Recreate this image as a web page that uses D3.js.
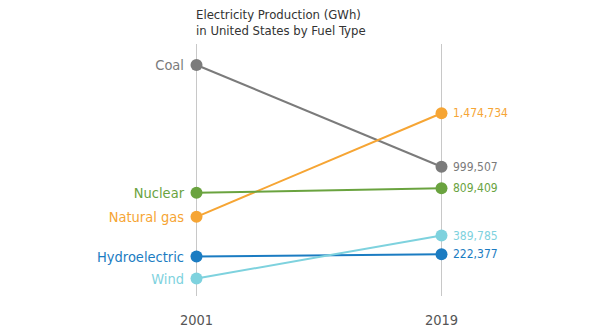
<!DOCTYPE html>
<html>
<head>
<meta charset="utf-8">
<script src="https://cdn.jsdelivr.net/npm/d3@7"></script>
<style>
  body { margin: 0; background: #fff; }
  svg text { font-family: "DejaVu Sans Condensed", "DejaVu Sans", sans-serif; }
</style>
</head>
<body>
<div id="chart"></div>
<script>
// Data
var years = ["2001", "2019"];
var fuels = ["Coal", "Natural gas", "Nuclear", "Hydroelectric", "Wind"];
var values2001 = [1903956, 555000, 768826, 203000, 6737];
var values2019 = [999507, 1474734, 809409, 222377, 389785];
var colors = ["#7b7b7b", "#f6a534", "#6aa33f", "#1b7cc2", "#7ed2de"];
var titleLines = ["Electricity Production (GWh)", "in United States by Fuel Type"];

var svgWidth = 604;
var svgHeight = 332;

var svg = d3.select("#chart")
    .append("svg")
    .attr("width", svgWidth)
    .attr("height", svgHeight);

var x = d3.scalePoint()
    .domain(years)
    .range([196, 441]);

var y = d3.scaleLinear()
    .domain([0, 1900000])
    .range([279.3, 65.4]);

var series = fuels.map(function(f, i) {
    return { name: f, color: colors[i], values: [values2001[i], values2019[i]] };
});

// vertical axis lines
svg.append("g")
    .selectAll("line")
    .data(years)
    .enter()
    .append("line")
    .attr("x1", d => x(d) + 0.5)
    .attr("x2", d => x(d) + 0.5)
    .attr("y1", 44)
    .attr("y2", 296)
    .attr("stroke", "#c8c8c8")
    .attr("stroke-width", 1);

// year labels
svg.append("g")
    .selectAll("text")
    .data(years)
    .enter()
    .append("text")
    .attr("x", d => x(d) + 0.5)
    .attr("y", 325)
    .attr("text-anchor", "middle")
    .attr("font-size", 14.5)
    .attr("fill", "#555")
    .text(d => d);

// title
svg.append("text")
    .attr("x", 196)
    .attr("y", 19)
    .attr("font-size", 13)
    .attr("fill", "#333")
    .selectAll("tspan")
    .data(titleLines)
    .enter()
    .append("tspan")
    .attr("x", 196)
    .attr("dy", (d, i) => i === 0 ? 0 : 16)
    .text(d => d);

var line = d3.line()
    .x((d, i) => x(years[i]) + 0.5)
    .y(d => y(d));

var groups = svg.append("g")
    .selectAll("g")
    .data(series)
    .enter()
    .append("g");

groups.append("path")
    .attr("d", d => line(d.values))
    .attr("fill", "none")
    .attr("stroke", d => d.color)
    .attr("stroke-width", 2);

groups.selectAll("circle")
    .data(d => d.values.map(v => ({ v: v, color: d.color })))
    .enter()
    .append("circle")
    .attr("cx", (d, i) => x(years[i]) + 0.5)
    .attr("cy", d => y(d.v))
    .attr("r", 6)
    .attr("fill", d => d.color);

// left labels (fuel names)
groups.append("text")
    .attr("x", x(years[0]) - 12)
    .attr("y", d => y(d.values[0]))
    .attr("dy", "0.35em")
    .attr("text-anchor", "end")
    .attr("font-size", 14.5)
    .attr("fill", d => d.color)
    .text(d => d.name);

// right labels (values)
groups.append("text")
    .attr("x", x(years[1]) + 12)
    .attr("y", d => y(d.values[1]))
    .attr("dy", "0.35em")
    .attr("font-size", 12)
    .attr("fill", d => d.color)
    .text(d => d3.format(",")(d.values[1]));
</script>
</body>
</html>
